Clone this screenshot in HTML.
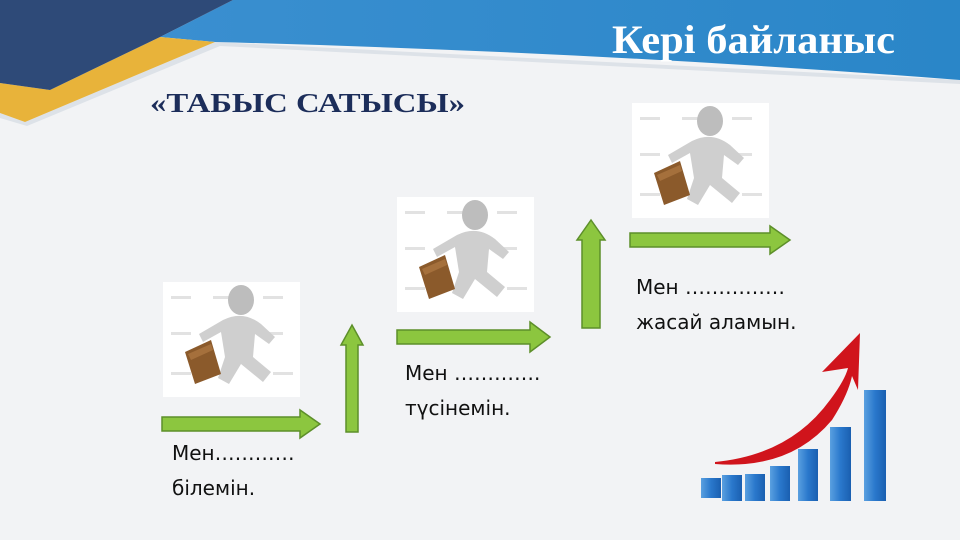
<!DOCTYPE html>
<html><head><meta charset="utf-8"><style>
body{margin:0;width:960px;height:540px;overflow:hidden;background:#f2f3f5;position:relative;font-family:"Liberation Sans","DejaVu Sans",sans-serif}
.t{position:absolute;font-family:"DejaVu Sans","Liberation Sans",sans-serif;font-size:20px;color:#111;line-height:35px}
</style></head><body>
<svg width="960" height="540" style="position:absolute;left:0;top:0">
<defs>
<linearGradient id="bl" x1="0" y1="0" x2="1" y2="0"><stop offset="0" stop-color="#3a8fd0"/><stop offset="1" stop-color="#2a86c8"/></linearGradient>
<linearGradient id="bar" x1="0" y1="0" x2="1" y2="0"><stop offset="0" stop-color="#5aa0e0"/><stop offset="0.5" stop-color="#2a78cc"/><stop offset="1" stop-color="#1a5fb0"/></linearGradient>
<g id="f">
<rect x="0" y="0" width="137" height="115" fill="#fff"/>
<g fill="#e2e2e2"><rect x="8" y="14" width="20" height="3"/><rect x="50" y="14" width="20" height="3"/><rect x="100" y="14" width="20" height="3"/><rect x="8" y="50" width="20" height="3"/><rect x="100" y="50" width="20" height="3"/><rect x="8" y="90" width="20" height="3"/><rect x="110" y="90" width="20" height="3"/></g>
<ellipse cx="78" cy="18" rx="13" ry="15" fill="#bdbdbd"/>
<path d="M60,38 Q80,28 98,42 L112,55 L106,62 L92,52 L90,75 L108,90 L100,100 L78,82 L66,102 L55,96 L62,75 L58,50 L40,60 L36,52 Z" fill="#cfcfcf"/>
<path d="M22,70 L48,58 L58,92 L32,102 Z" fill="#8b5a2b"/>
<path d="M25,72 L48,62 L50,68 L28,78 Z" fill="#a5703c"/>
</g>
</defs>
<path d="M0,118 L27,126 L220,46 L960,84 L960,80 L215,42 L25,122 L0,113 Z" fill="#dde2e8"/>
<path d="M233,0 L960,0 L960,80 Q600,52 215,42 L160,37 Z" fill="url(#bl)"/>
<path d="M160,37 L215,42 L25,122 L0,113 L0,83 L50,90 Z" fill="#e8b33a"/>
<path d="M0,0 L233,0 L160,37 L50,90 L0,83 Z" fill="#2e4a78"/>
<text x="612" y="53" font-family="Liberation Serif,serif" font-weight="bold" font-size="40" fill="#fff" textLength="283" lengthAdjust="spacingAndGlyphs">Кері байланыс</text>
<text x="150" y="112" font-family="Liberation Serif,serif" font-weight="bold" font-size="27" fill="#1c2d5a" textLength="315" lengthAdjust="spacingAndGlyphs">«ТАБЫС  САТЫСЫ»</text>
<use href="#f" x="163" y="282"/>
<use href="#f" x="397" y="197"/>
<use href="#f" x="632" y="103"/>
<g fill="#8cc63f" stroke="#5d8f2a" stroke-width="1.5">
<path d="M162,417 L300,417 L300,410 L320,424 L300,438 L300,431 L162,431 Z"/>
<path d="M346,432 L346,345 L341,345 L352,325 L363,345 L358,345 L358,432 Z"/>
<path d="M397,330 L530,330 L530,322 L550,337 L530,352 L530,344 L397,344 Z"/>
<path d="M582,328 L582,240 L577,240 L591,220 L605,240 L600,240 L600,328 Z"/>
<path d="M630,233 L770,233 L770,226 L790,240 L770,254 L770,247 L630,247 Z"/>
</g>
<g>
<rect x="701" y="478" width="20" height="20" fill="url(#bar)"/>
<rect x="722" y="475" width="20" height="26" fill="url(#bar)"/>
<rect x="745" y="474" width="20" height="27" fill="url(#bar)"/>
<rect x="770" y="466" width="20" height="35" fill="url(#bar)"/>
<rect x="798" y="449" width="20" height="52" fill="url(#bar)"/>
<rect x="830" y="427" width="21" height="74" fill="url(#bar)"/>
<rect x="864" y="390" width="22" height="111" fill="url(#bar)"/>
</g>
<path d="M715,462 Q790,455 830,400 Q845,380 848,368 L822,372 L860,333 L858,390 L852,376 Q848,395 832,420 Q790,470 715,464 Z" fill="#d0141c"/>
</svg>
<div class="t" style="left:172px;top:436px">Мен…………<br>білемін.</div>
<div class="t" style="left:405px;top:356px">Мен ………….<br>түсінемін.</div>
<div class="t" style="left:636px;top:270px">Мен ……………<br>жасай аламын.</div>
</body></html>
